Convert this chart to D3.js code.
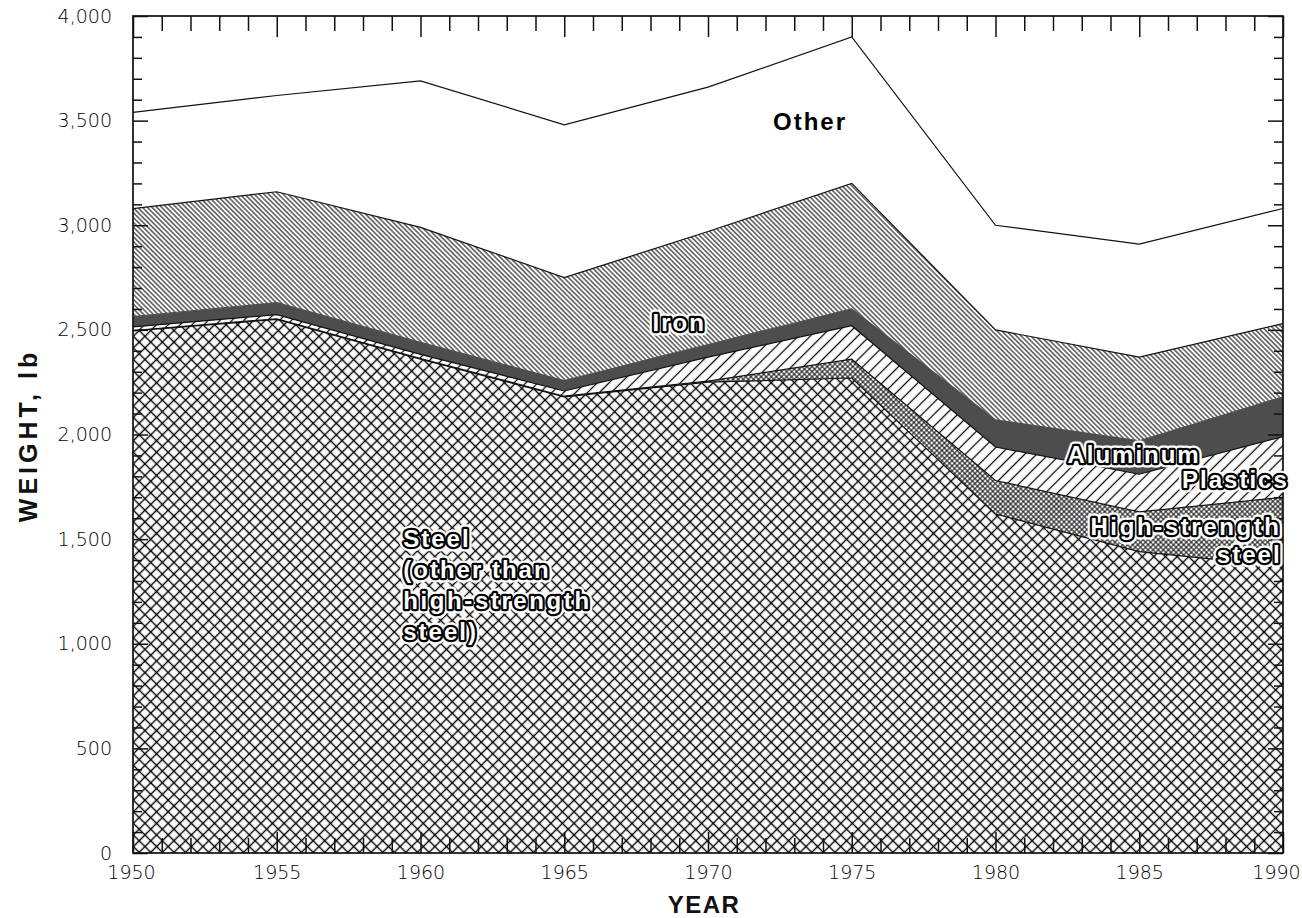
<!DOCTYPE html>
<html>
<head>
<meta charset="utf-8">
<script src="https://cdn.jsdelivr.net/npm/d3@7"></script>
<style>
  html, body { margin: 0; padding: 0; background: #fff; }
  svg { display: block; }
</style>
</head>
<body>
<svg id="chart" width="1302" height="918"></svg>
<script>
// Vehicle material weight by year, pounds per car (stacked, bottom to top)
const years        = [1950, 1955, 1960, 1965, 1970, 1975, 1980, 1985, 1990];
const steel        = [2495, 2550, 2360, 2180, 2250, 2270, 1620, 1440, 1370];
const highStrength = [   2,    3,    3,    3,    5,   90,  160,  190,  330];
const plastics     = [  17,   20,   20,   25,  115,  160,  160,  180,  290];
const aluminum     = [  50,   57,   57,   50,   60,   80,  130,  160,  190];
const iron         = [ 515,  530,  550,  492,  540,  600,  430,  400,  350];
const other        = [ 460,  460,  700,  730,  690,  700,  500,  540,  550];

const seriesKeys = ["steel", "highStrength", "plastics", "aluminum", "iron", "other"];
const yTickValues = [0, 500, 1000, 1500, 2000, 2500, 3000, 3500, 4000];

// Region labels, positioned in data units (year, lb)
const labels = [
  { lines: ["Other"], year: 1973.55, value: 3455, anchor: "middle", outlined: false },
  { lines: ["Iron"], year: 1969.0, value: 2495, anchor: "middle", outlined: true },
  { lines: ["Aluminum"], year: 1982.5, value: 1866, anchor: "start", outlined: true },
  { lines: ["Plastics"], year: 1990.2, value: 1745, anchor: "end", outlined: true },
  { lines: ["High-strength", "steel"], year: 1989.95, value: 1520, anchor: "end", outlined: true },
  { lines: ["Steel", "(other than", "high-strength", "steel)"], year: 1959.4, value: 1462, anchor: "start", outlined: true }
];

const table = years.map((yr, i) => ({
  year: yr,
  steel: steel[i],
  highStrength: highStrength[i],
  plastics: plastics[i],
  aluminum: aluminum[i],
  iron: iron[i],
  other: other[i]
}));

const svg = d3.select("#chart");
const margin = { left: 133, right: 19, top: 16, bottom: 65 };
const W = 1302, H = 918;
const iw = W - margin.left - margin.right;
const ih = H - margin.top - margin.bottom;

const x = d3.scaleLinear().domain([1950, 1990]).range([margin.left, margin.left + iw]);
const y = d3.scaleLinear().domain([0, 4000]).range([margin.top + ih, margin.top]);

// Fill patterns
const defs = svg.append("defs");
function hatch(id, spacing, angle, lw, cross) {
  const p = defs.append("pattern")
    .attr("id", id)
    .attr("patternUnits", "userSpaceOnUse")
    .attr("width", spacing)
    .attr("height", spacing)
    .attr("patternTransform", `rotate(${angle})`);
  p.append("rect").attr("width", spacing).attr("height", spacing).attr("fill", "#fff");
  p.append("line")
    .attr("x1", 0).attr("x2", spacing)
    .attr("y1", spacing / 2).attr("y2", spacing / 2)
    .attr("stroke", "#000").attr("stroke-width", lw);
  if (cross) {
    p.append("line")
      .attr("y1", 0).attr("y2", spacing)
      .attr("x1", spacing / 2).attr("x2", spacing / 2)
      .attr("stroke", "#000").attr("stroke-width", lw);
  }
}
hatch("pat-steel", 8.2, 45, 1.4, true);
hatch("pat-hss", 3.6, 45, 0.95, true);
hatch("pat-plastics", 8.4, -45, 1.25, false);
hatch("pat-iron", 3.4, 45, 1.0, false);

const fills = {
  steel: "url(#pat-steel)",
  highStrength: "url(#pat-hss)",
  plastics: "url(#pat-plastics)",
  aluminum: "#4d4d4d",
  iron: "url(#pat-iron)",
  other: "#ffffff"
};

const stacked = d3.stack().keys(seriesKeys)(table);

const area = d3.area()
  .x(d => x(d.data.year))
  .y0(d => y(d[0]))
  .y1(d => y(d[1]));

const topLine = d3.line()
  .x(d => x(d.data.year))
  .y(d => y(d[1]));

const layers = svg.append("g").attr("class", "layers");
layers.selectAll("path.area")
  .data(stacked)
  .join("path")
  .attr("class", "area")
  .attr("d", area)
  .attr("fill", d => fills[d.key]);

layers.selectAll("path.edge")
  .data(stacked)
  .join("path")
  .attr("class", "edge")
  .attr("d", topLine)
  .attr("fill", "none")
  .attr("stroke", d => d.key === "aluminum" ? "#4d4d4d" : "#111")
  .attr("stroke-width", 1.2);

// Axes: year ticks every year (long every 5), weight ticks every 100 lb (long every 500)
const allYears = d3.range(1950, 1991);
const minorY = d3.range(0, 4001, 100);
const fmt = d3.format(",");

function styleAxis(g, isMajor, majorLen) {
  g.select(".domain").remove();
  g.selectAll(".tick line")
    .attr("stroke", "#111")
    .attr("stroke-width", 1.5);
  g.selectAll(".tick").filter(d => isMajor(d)).select("line").each(function () {
    const l = d3.select(this);
    if (l.attr("y2") !== null && +l.attr("y2") !== 0) l.attr("y2", majorLen);
    if (l.attr("x2") !== null && +l.attr("x2") !== 0) l.attr("x2", majorLen);
  });
  g.selectAll(".tick text")
    .attr("font-family", "'DejaVu Sans', sans-serif")
    .attr("font-weight", 300)
    .attr("fill", "#000");
}

const isMajorYear = d => d % 5 === 0;
const isMajorW = d => d % 500 === 0;

svg.append("g")
  .attr("transform", `translate(0,${y(0)})`)
  .call(d3.axisBottom(x).tickValues(allYears).tickSizeInner(-15).tickSizeOuter(0)
    .tickPadding(13).tickFormat(d => isMajorYear(d) ? String(d) : ""))
  .call(g => styleAxis(g, isMajorYear, -21))
  .call(g => g.selectAll(".tick text").attr("font-size", 19)
    .attr("dx", d => d === 1990 ? -7 : (d === 1950 ? -2 : 0)));

svg.append("g")
  .attr("transform", `translate(0,${y(4000)})`)
  .call(d3.axisTop(x).tickValues(allYears).tickSizeInner(-15).tickSizeOuter(0).tickFormat(""))
  .call(g => styleAxis(g, isMajorYear, 21));

svg.append("g")
  .attr("transform", `translate(${x(1950)},0)`)
  .call(d3.axisLeft(y).tickValues(minorY).tickSizeInner(-9).tickSizeOuter(0)
    .tickPadding(21).tickFormat(d => isMajorW(d) ? fmt(d) : ""))
  .call(g => styleAxis(g, isMajorW, 15))
  .call(g => g.selectAll(".tick text").attr("font-size", 19));

svg.append("g")
  .attr("transform", `translate(${x(1990)},0)`)
  .call(d3.axisRight(y).tickValues(minorY).tickSizeInner(-9).tickSizeOuter(0).tickFormat(""))
  .call(g => styleAxis(g, isMajorW, -15));

// Frame
svg.append("rect")
  .attr("x", x(1950)).attr("y", y(4000))
  .attr("width", x(1990) - x(1950)).attr("height", y(0) - y(4000))
  .attr("fill", "none").attr("stroke", "#111").attr("stroke-width", 1.7);

// Axis titles
svg.append("text")
  .attr("x", (x(1950) + x(1990)) / 2 - 4)
  .attr("y", 913)
  .attr("text-anchor", "middle")
  .attr("font-family", "'Liberation Sans', Arial, sans-serif")
  .attr("font-weight", "bold")
  .attr("font-size", 24)
  .attr("letter-spacing", 1.5)
  .attr("fill", "#111")
  .text("YEAR");

svg.append("text")
  .attr("transform", `translate(37,${(y(0) + y(4000)) / 2 + 1}) rotate(-90)`)
  .attr("text-anchor", "middle")
  .attr("font-family", "'Liberation Sans', Arial, sans-serif")
  .attr("font-weight", "bold")
  .attr("font-size", 25)
  .attr("letter-spacing", 4)
  .attr("fill", "#111")
  .text("WEIGHT, lb");

// Region labels
const labelG = svg.append("g").attr("class", "labels");
labels.forEach(lb => {
  const step = lb.lines.length === 2 ? 28 : 31;
  lb.lines.forEach((t, i) => {
    const px = x(lb.year);
    const py = y(lb.value) + i * step;
    const base = sel => sel
      .attr("x", px).attr("y", py)
      .attr("text-anchor", lb.anchor)
      .attr("font-family", "'Liberation Sans', Arial, sans-serif")
      .attr("font-weight", "bold")
      .attr("font-size", 24)
      .attr("letter-spacing", t.startsWith("High") || t.startsWith("high") ? 2.6 : 2)
      .text(t);
    if (lb.outlined) {
      labelG.append("text").call(base)
        .attr("fill", "#fff").attr("stroke", "#fff")
        .attr("stroke-width", 9).attr("stroke-linejoin", "round");
      labelG.append("text").call(base)
        .attr("fill", "#fff").attr("stroke", "#000")
        .attr("stroke-width", 4.5).attr("stroke-linejoin", "round")
        .attr("paint-order", "stroke");
    } else {
      labelG.append("text").call(base).attr("fill", "#000");
    }
  });
});
</script>
</body>
</html>
